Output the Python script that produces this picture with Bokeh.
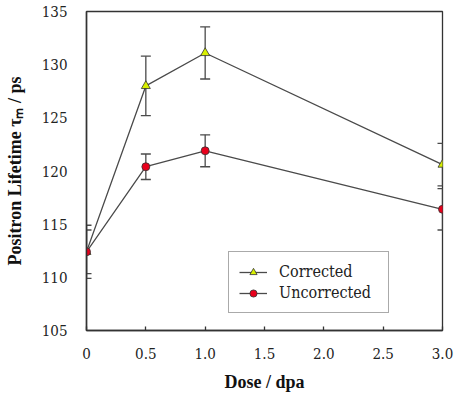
from bokeh.plotting import figure
from bokeh.models import FixedTicker, Range1d, Legend, LegendItem
from bokeh.embed import file_html
from bokeh.resources import INLINE

# ---- data ----
dose = [0.0, 0.5, 1.0, 3.0]
corrected = [112.4, 128.0, 131.1, 120.6]
corrected_err = [2.5, 2.8, 2.45, 2.0]
uncorrected = [112.4, 120.4, 121.9, 116.4]
uncorrected_err = [2.05, 1.2, 1.5, 1.95]
x_ticks = [0, 0.5, 1.0, 1.5, 2.0, 2.5, 3.0]
x_tick_labels = ["0", "0.5", "1.0", "1.5", "2.0", "2.5", "3.0"]
y_ticks = [105, 110, 115, 120, 125, 130, 135]

LINE = "#4a4a4a"
REG = "DejaVu Serif Condensed"

p = figure(width=458, height=394, output_backend="svg", toolbar_location=None,
           x_range=Range1d(0, 3.0), y_range=Range1d(105, 135),
           min_border_left=86, min_border_right=16, min_border_top=11, min_border_bottom=64)
p.background_fill_color = "white"
p.border_fill_color = "white"
p.outline_line_color = "#333333"
p.outline_line_width = 1.3
p.grid.visible = False

for vals, errs in [(corrected, corrected_err), (uncorrected, uncorrected_err)]:
    lo = [v - e for v, e in zip(vals, errs)]
    hi = [v + e for v, e in zip(vals, errs)]
    p.segment(x0=dose, y0=lo, x1=dose, y1=hi, line_color=LINE, line_width=1.3)
    p.scatter(x=dose, y=lo, marker="dash", size=10, line_color=LINE, line_width=1.3)
    p.scatter(x=dose, y=hi, marker="dash", size=10, line_color=LINE, line_width=1.3)

l1 = p.line(dose, corrected, line_color=LINE, line_width=1.3)
m1 = p.scatter(dose, corrected, marker="triangle", size=9, fill_color="#d8f000",
               line_color="#333333", line_width=0.8)
l2 = p.line(dose, uncorrected, line_color=LINE, line_width=1.3)
m2 = p.scatter(dose, uncorrected, marker="circle", size=8, fill_color="#e8001c",
               line_color="#333333", line_width=0.8)

legend = Legend(items=[LegendItem(label="Corrected", renderers=[l1, m1]),
                       LegendItem(label="Uncorrected", renderers=[l2, m2])],
                location=(142, 17))
legend.label_text_font = REG
legend.label_text_font_size = "16px"
legend.label_text_color = "#222222"
legend.border_line_color = "#555555"
legend.border_line_width = 1
legend.background_fill_alpha = 1
legend.padding = 10
legend.spacing = 2
legend.margin = 0
legend.glyph_width = 28
legend.glyph_height = 18
legend.label_height = 18
legend.label_standoff = 12
legend.label_width = 99
p.add_layout(legend, "center")

# x axis
xa = p.xaxis[0]
xa.ticker = FixedTicker(ticks=x_ticks)
xa.major_label_overrides = {t: s for t, s in zip(x_ticks, x_tick_labels)}
xa.major_tick_in = 4
xa.major_tick_out = 0
xa.minor_tick_in = 0
xa.minor_tick_out = 0
xa.major_label_standoff = 17
xa.axis_label = "Dose / dpa"
xa.axis_label_standoff = 10

# y axis
ya = p.yaxis[0]
ya.ticker = FixedTicker(ticks=y_ticks)
ya.major_tick_in = 0
ya.major_tick_out = 0
ya.minor_tick_in = 0
ya.minor_tick_out = 0
ya.major_label_standoff = 19
ya.axis_label = "Positron Lifetime τₘ / ps"
ya.axis_label_standoff = 14

for ax in (xa, ya):
    ax.axis_line_color = "#333333"
    ax.axis_line_width = 1.5
    ax.major_tick_line_color = "#333333"
    ax.major_tick_line_width = 1.3
    ax.major_label_text_font = REG
    ax.major_label_text_font_size = "15px"
    ax.major_label_text_color = "#222222"
    ax.axis_label_text_font = "Liberation Serif"
    ax.axis_label_text_font_size = "18px"
    ax.axis_label_text_font_style = "bold"
    ax.axis_label_text_color = "#111111"

open("out.html", "w").write(file_html(p, INLINE))
